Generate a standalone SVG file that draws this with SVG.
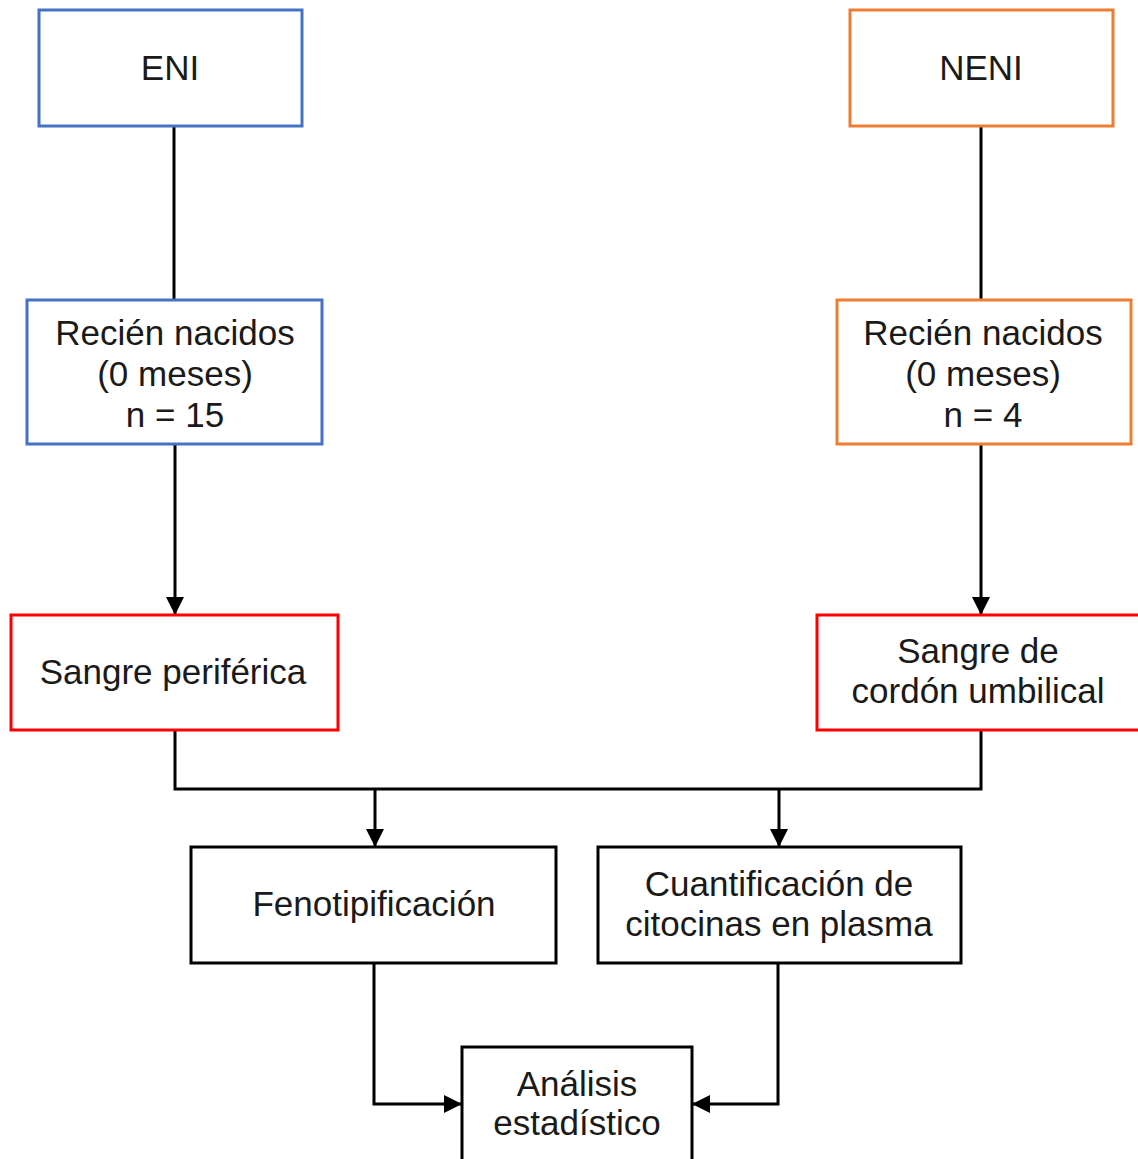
<svg xmlns="http://www.w3.org/2000/svg" width="1138" height="1159" viewBox="0 0 1138 1159">
<style>
.box{fill:#fff;stroke-width:3}
.blue{stroke:#4472C4}
.orange{stroke:#ED7D31}
.red{stroke:#FF0000}
.black{stroke:#000}
.t{font-family:"Liberation Sans",Arial,sans-serif;font-size:35px;fill:#1a1a1a;text-anchor:middle}
.c{fill:none;stroke:#000;stroke-width:3}
</style>
<defs>
<marker id="arr" markerUnits="userSpaceOnUse" markerWidth="18" markerHeight="18" viewBox="0 0 18 18" refX="17" refY="9" orient="auto">
<path d="M0,0 L18,9 L0,18 Z" fill="#000"/>
</marker>
</defs>
<g id="connectors">
<path class="c" d="M174,126 V300"/>
<path class="c" d="M981,126 V300"/>
<path class="c" d="M175,444 V614" marker-end="url(#arr)"/>
<path class="c" d="M981,444 V614" marker-end="url(#arr)"/>
<path class="c" d="M175,730 V789 H981 V730"/>
<path class="c" d="M375,789 V846" marker-end="url(#arr)"/>
<path class="c" d="M779,789 V846" marker-end="url(#arr)"/>
<path class="c" d="M374,963 V1104 H461" marker-end="url(#arr)"/>
<path class="c" d="M778,963 V1104 H693" marker-end="url(#arr)"/>
</g>
<g id="eni"><rect class="box blue" x="39" y="10" width="263" height="116"/><text class="t" x="170" y="80">ENI</text></g>
<g id="neni"><rect class="box orange" x="850" y="10" width="263" height="116"/><text class="t" x="981" y="80">NENI</text></g>
<g id="rn-eni"><rect class="box blue" x="27" y="300" width="295" height="144"/>
<text class="t" x="175" y="345">Recién nacidos</text><text class="t" x="175" y="386">(0 meses)</text><text class="t" x="175" y="427">n = 15</text></g>
<g id="rn-neni"><rect class="box orange" x="837" y="300" width="294" height="144"/>
<text class="t" x="983" y="345">Recién nacidos</text><text class="t" x="983" y="386">(0 meses)</text><text class="t" x="983" y="427">n = 4</text></g>
<g id="sp"><rect class="box red" x="11" y="615" width="327" height="115"/><text class="t" x="173" y="684">Sangre periférica</text></g>
<g id="scu"><rect class="box red" x="817" y="615" width="330" height="115"/>
<text class="t" x="978" y="663">Sangre de</text><text class="t" x="978" y="703">cordón umbilical</text></g>
<g id="feno"><rect class="box black" x="191" y="847" width="365" height="116"/><text class="t" x="374" y="916">Fenotipificación</text></g>
<g id="cuant"><rect class="box black" x="598" y="847" width="363" height="116"/>
<text class="t" x="779" y="896">Cuantificación de</text><text class="t" x="779" y="936">citocinas en plasma</text></g>
<g id="analisis"><rect class="box black" x="462" y="1047" width="230" height="116"/>
<text class="t" x="577" y="1096">Análisis</text><text class="t" x="577" y="1135">estadístico</text></g>
</svg>
